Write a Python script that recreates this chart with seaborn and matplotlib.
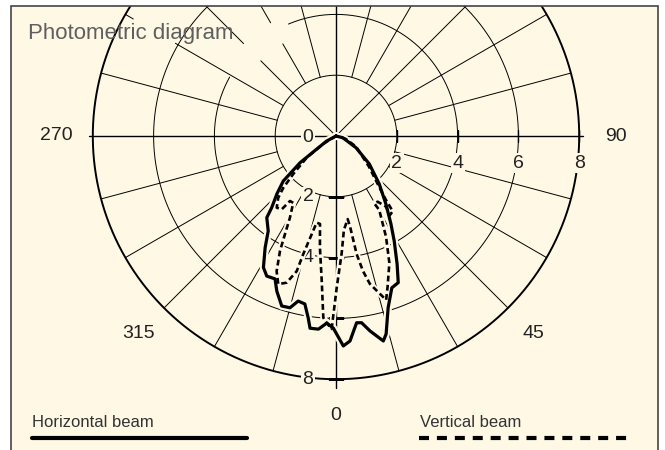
import numpy as np
import pandas as pd
import matplotlib
matplotlib.use("Agg")
import matplotlib.pyplot as plt
import matplotlib.transforms as mtransforms
from matplotlib.patches import Rectangle
from matplotlib.lines import Line2D
import seaborn as sns

CREAM = "#fef8e5"

# horizontal beam (solid): angle in degrees (0 = down, +90 = right) and intensity
h_angle = [-62, -61.7, -53.4, -49.5, -45.6, -41.9, -40.3, -35.5, -32.4, -28.9,
           -26.3, -23.1, -20.9, -17.7, -15.0, -12.9, -10.5, -8.7, -7.7, -5.2,
           -2.8, -0.8, 2.0, 3.9, 6.3, 7.8, 9.9, 13.0, 14.2, 16.9,
           20.2, 23.0, 25.5, 29.0, 32.0, 36.3, 42.1, 50.0, 59.7, 75.8, 80]
h_value = [0, 0.35, 1.47, 2.28, 2.72, 3.17, 3.52, 3.84, 4.35, 4.94,
           5.14, 5.11, 5.46, 5.87, 5.85, 5.57, 5.62, 6.05, 6.38, 6.38,
           6.16, 6.32, 6.91, 6.76, 6.18, 6.20, 6.51, 6.92, 6.72, 5.90,
           5.32, 5.24, 4.67, 3.95, 3.41, 2.77, 2.12, 1.43, 0.76, 0.23, 0]

# vertical beam (dashed)
v_angle = [-60, -58.4, -53.5, -48.3, -45.5, -43.1, -39.6, -36.5, -35.3, -32.6,
           -29.4, -27.5, -26.0, -23.7, -21.3, -18.6, -16.2, -15.5, -13.9, -12.6,
           -10.3, -8.2, -5.6, -4.0, -2.9, -1.3, 0.3, 2.8, 4.8, 8.0,
           8.8, 9.9, 11.3, 12.9, 17.0, 18.9, 22.8, 26.4, 30.3, 29.6,
           32.4, 35.3, 34.2, 37.0, 38.0, 40.3, 47.1, 61.9, 73.3, 80]
v_value = [0, 0.50, 1.20, 1.89, 2.43, 2.78, 3.06, 3.00, 2.62, 2.61,
           3.09, 3.63, 4.20, 4.86, 5.23, 5.09, 4.63, 4.03, 3.33, 2.92,
           2.94, 3.71, 4.80, 5.99, 6.15, 6.35, 4.97, 3.85, 3.10, 2.76,
           3.00, 3.94, 4.53, 4.99, 5.64, 5.24, 4.53, 3.70, 2.82, 2.55,
           2.56, 2.85, 3.15, 3.10, 2.67, 2.19, 1.48, 0.75, 0.34, 0]

rings = [2, 4, 6, 8]
right_labels = ["2", "4", "6", "8"]
down_rings = [0, 2, 4, 8]
down_labels = ["0", "2", "4", "8"]
angle_ticks = [270, 90, 315, 45, 0]
angle_labels = ["270", "90", "315", "45", "0"]

sns.set_style("white")
plt.rcParams["font.family"] = ["Liberation Sans", "DejaVu Sans"]

W, H = 665, 450
cx, cy = 336, 136          # centre of the diagram in pixels (from top-left)
unit = 30.4                # pixels per intensity unit
rmax = 8.35
rad = rmax * unit

fig = plt.figure(figsize=(W / 100, H / 100), dpi=100, facecolor="white")

# cream panel with a thin frame (open at the bottom)
fig.add_artist(Rectangle((10.5 / W, -0.05), 647 / W, 1 - 6 / H + 0.05,
                         transform=fig.transFigure, fc=CREAM, ec="none", zorder=-1))

ax = fig.add_axes([(cx - rad) / W, (H - cy - rad) / H, 2 * rad / W, 2 * rad / H],
                  projection="polar")
ax.set_theta_zero_location("S")
ax.set_theta_direction(1)
ax.set_ylim(0, rmax)
ax.set_xticks([])
ax.set_yticks([])
ax.grid(False)
ax.spines["polar"].set_visible(False)
ax.patch.set_visible(False)

# rings
th = np.linspace(0, 2 * np.pi, 1441)
for r in rings:
    rr = np.full_like(th, float(r))
    if r == 4:
        deg = np.degrees(th)
        rr[(deg > 203) & (deg < 241)] = np.nan
    ax.plot(th, rr, color="black", lw=1.4 if r == 8 else 0.7, zorder=1)

# spokes every 15 degrees
for a in range(0, 360, 15):
    t = np.radians(a)
    if a in (90, 270):
        segs, lw = [(0, 8.12)], 1.0
    elif a in (0, 180):
        segs, lw = [(0, 8.3)], 1.0
    elif a in (135, 225):
        segs, lw = [(0, 8)], 0.7
    else:
        segs, lw = [(2, 8)], 0.7
    if a in (210, 225):
        segs = [(segs[0][0], 3.5), (4.3, 8)]
    if a == 240:
        segs = [(2, 6.1), (7.7, 8)]
    for r0, r1 in segs:
        ax.plot([t, t], [r0, r1], color="black", lw=lw, zorder=1)

# small ticks on the axes
ax.plot([np.pi / 2] * 4, rings, ls="none", marker="|", ms=9, mew=1.0,
        color="black", zorder=1)
ax.plot([0.0] * 4, rings, ls="none", marker="_", ms=11, mew=1.0,
        color="black", zorder=1)


def shifted(dx, dy):
    return mtransforms.offset_copy(ax.transData, fig=fig, x=dx, y=dy, units="dots")


box = dict(boxstyle="square,pad=0.08", fc=CREAM, ec="none")
for r, s in zip(rings, right_labels):
    ax.text(np.pi / 2, r, s, transform=shifted(0, -27), ha="center", va="center",
            fontsize=14, color="#222222", bbox=box, zorder=2)
for r, s in zip(down_rings, down_labels):
    ax.text(0.0, r, s, transform=shifted(-28, -2 if r == 0 else 0), ha="center",
            va="center", fontsize=14, color="#222222", bbox=box, zorder=2)
for a, s in zip(angle_ticks, angle_labels):
    ax.text(np.radians(a), 9.2, s, ha="center", va="center", fontsize=14,
            color="#222222")

# beams
h_df = pd.DataFrame({"theta": np.radians(h_angle), "value": h_value})
v_df = pd.DataFrame({"theta": np.radians(v_angle), "value": v_value})

ax.plot(h_df["theta"], h_df["value"], color=CREAM, lw=5.5, zorder=3)
ax.plot(v_df["theta"], v_df["value"], color=CREAM, lw=4.5, zorder=3)
sns.lineplot(data=h_df, x="theta", y="value", sort=False, estimator=None,
             color="black", lw=2.3, ax=ax, zorder=4)
sns.lineplot(data=v_df, x="theta", y="value", sort=False, estimator=None,
             color="black", lw=1.9, linestyle=(0, (2.2, 1.3)), ax=ax, zorder=5)
ax.set_xlabel("")
ax.set_ylabel("")

# title and legend
fig.text(28 / W, 1 - 39.5 / H, "Photometric diagram", fontsize=16, color="#5f5f5f",
         va="baseline")
fig.text(32 / W, 1 - 427 / H, "Horizontal beam", fontsize=12, color="#333333",
         va="baseline")
fig.text(420 / W, 1 - 427 / H, "Vertical beam", fontsize=12, color="#333333",
         va="baseline")
fig.add_artist(Line2D([32 / W, 247 / W], [1 - 438 / H] * 2, transform=fig.transFigure,
                      color="black", lw=3))
fig.add_artist(Line2D([419 / W, 634 / W], [1 - 438 / H] * 2, transform=fig.transFigure,
                      color="black", lw=3, linestyle=(0, (2.4, 1.9))))

# white margin above the frame, then the frame itself
fig.add_artist(Rectangle((0, 1 - 6 / H), 1, 6 / H, transform=fig.transFigure,
                         fc="white", ec="none", zorder=8))
fig.add_artist(Rectangle((10.5 / W, -0.05), 647 / W, 1 - 6 / H + 0.05,
                         transform=fig.transFigure, fill=False, ec="#444444",
                         lw=1.2, zorder=9))

fig.savefig("out.png", dpi=100, facecolor="white")
